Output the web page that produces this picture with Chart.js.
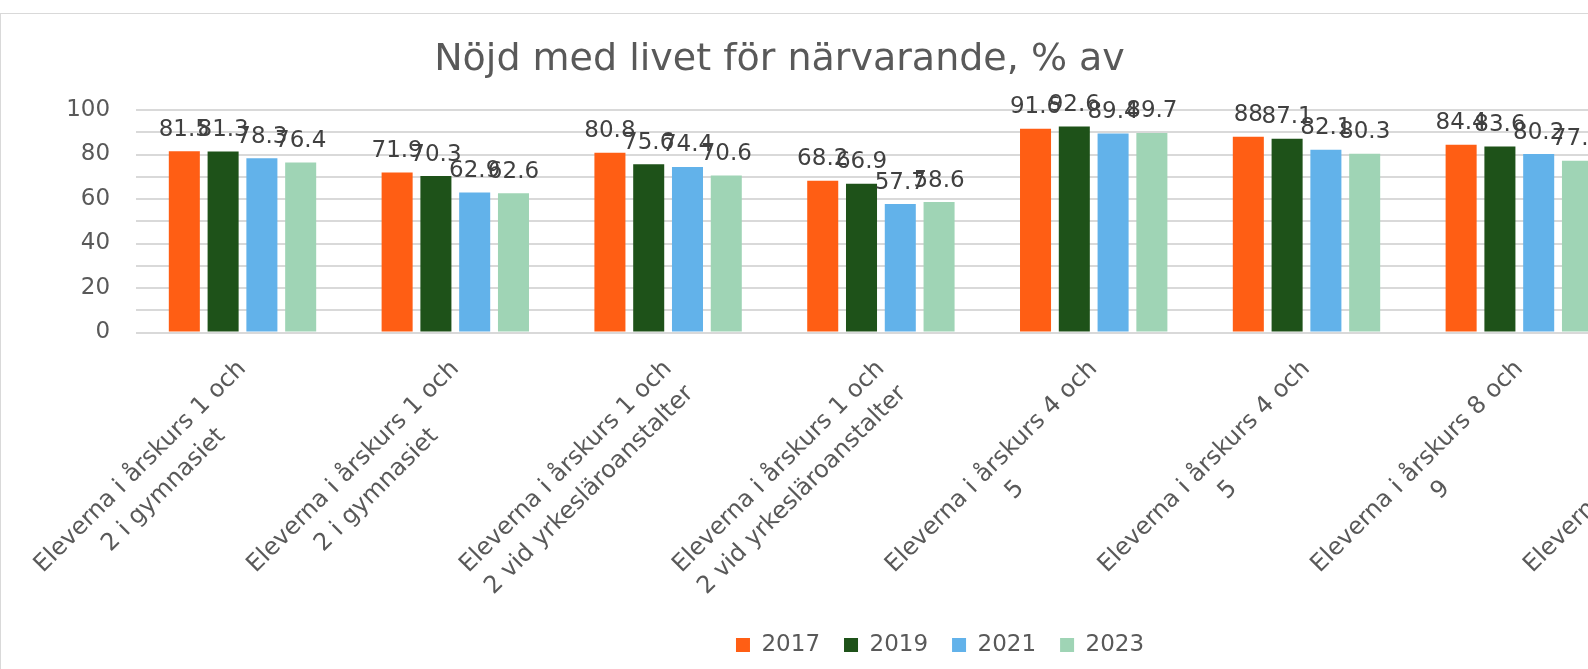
<!DOCTYPE html>
<html><head><meta charset="utf-8">
<script src="https://cdn.jsdelivr.net/npm/chart.js@4.4.1/dist/chart.umd.min.js"></script>
<style>
html,body{margin:0;padding:0;background:#fff;overflow:hidden;width:1588px;height:669px;}
#frame{position:absolute;left:0;top:13px;width:1900px;height:700px;border-top:1px solid #d9d9d9;border-left:1px solid #d9d9d9;background:#fff;}
#c{position:absolute;left:0;top:0;}
</style></head><body>
<div id="frame"><canvas id="c" width="1878" height="655" style="width:1878px;height:655px"></canvas></div>
<script>
const titleText = "Nöjd med livet för närvarande, % av";
const categories = [
  ["Eleverna i årskurs 1 och", "2 i gymnasiet"],
  ["Eleverna i årskurs 1 och", "2 i gymnasiet"],
  ["Eleverna i årskurs 1 och", "2 vid yrkesläroanstalter"],
  ["Eleverna i årskurs 1 och", "2 vid yrkesläroanstalter"],
  ["Eleverna i årskurs 4 och", "5"],
  ["Eleverna i årskurs 4 och", "5"],
  ["Eleverna i årskurs 8 och", "9"],
  ["Eleverna i årskurs 8 och", "9"]
];
const seriesNames = ["2017", "2019", "2021", "2023"];
const values2017 = [81.5, 71.9, 80.8, 68.2, 91.6, 88, 84.4, 79.8];
const values2019 = [81.3, 70.3, 75.6, 66.9, 92.6, 87.1, 83.6, 78.6];
const values2021 = [78.3, 62.9, 74.4, 57.7, 89.4, 82.1, 80.2, 74.1];
const values2023 = [76.4, 62.6, 70.6, 58.6, 89.7, 80.3, 77.2, 71.9];
const seriesColors = ["#FF5E14", "#1E5219", "#62B2EA", "#9FD4B5"];
const yTicks = [0, 20, 40, 60, 80, 100];

const FONT = '"DejaVu Sans", Verdana, sans-serif';

const titlePlugin = {
  id: 'customTitle',
  afterDraw(chart) {
    const ctx = chart.ctx; ctx.save();
    ctx.font = '38px ' + FONT; ctx.fillStyle = '#595959';
    ctx.textAlign = 'center'; ctx.textBaseline = 'alphabetic';
    ctx.fillText(titleText, 778.5, 56);
    ctx.restore();
  }
};

const valueLabels = {
  id: 'valueLabels',
  afterDatasetsDraw(chart) {
    const ctx = chart.ctx; ctx.save();
    ctx.font = '23px ' + FONT; ctx.fillStyle = '#404040';
    ctx.textAlign = 'center'; ctx.textBaseline = 'alphabetic';
    chart.data.datasets.forEach((ds, di) => {
      const meta = chart.getDatasetMeta(di);
      meta.data.forEach((el, i) => { ctx.fillText(String(ds.data[i]), el.x, el.y - 15.5); });
    });
    ctx.restore();
  }
};

const xLabels = {
  id: 'xLabels',
  afterDraw(chart) {
    const xs = chart.scales.x, ctx = chart.ctx, base = chart.chartArea.bottom;
    ctx.save();
    ctx.font = '24px ' + FONT; ctx.fillStyle = '#595959';
    ctx.textAlign = 'center'; ctx.textBaseline = 'alphabetic';
    const asc = 18.2, lh = 33;
    categories.forEach((lines, i) => {
      const cx = xs.getPixelForValue(i);
      const W = Math.max(...lines.map(l => ctx.measureText(l).width));
      ctx.save();
      ctx.translate(cx - 8.5, base + 24);
      ctx.rotate(-Math.PI / 4);
      lines.forEach((l, k) => ctx.fillText(l, -W / 2, asc + k * lh));
      ctx.restore();
    });
    ctx.restore();
  }
};

const allValues = [values2017, values2019, values2021, values2023];

new Chart(document.getElementById('c'), {
  type: 'bar',
  data: {
    labels: categories,
    datasets: seriesNames.map((n, i) => ({
      label: n,
      data: allValues[i],
      backgroundColor: seriesColors[i],
      borderWidth: 0,
      categoryPercentage: 0.729,
      barPercentage: 0.8
    }))
  },
  options: {
    responsive: false,
    devicePixelRatio: 1,
    animation: false,
    layout: { padding: { top: 96, left: 40.6, right: 40.5, bottom: 2.5 } },
    plugins: {
      title: { display: false },
      tooltip: { enabled: false },
      legend: {
        position: 'bottom',
        labels: {
          font: { family: FONT, size: 23 },
          color: '#595959',
          boxWidth: 14,
          boxHeight: 14,
          padding: 24
        }
      }
    },
    scales: {
      x: {
        grid: { display: false },
        border: { display: false },
        ticks: { display: false },
        afterFit(scale) { scale.height = 277; }
      },
      y: {
        min: 0, max: 100,
        grid: { color: '#d9d9d9', lineWidth: 2, drawTicks: false },
        border: { display: false },
        ticks: {
          stepSize: 10,
          autoSkip: false,
          padding: 26,
          color: '#595959',
          font: { family: FONT, size: 23 },
          callback: (v) => yTicks.includes(v) ? String(v) : ''
        },
        afterFit(scale) { scale.width = 94.5; }
      }
    }
  },
  plugins: [titlePlugin, valueLabels, xLabels]
});
</script></body></html>
